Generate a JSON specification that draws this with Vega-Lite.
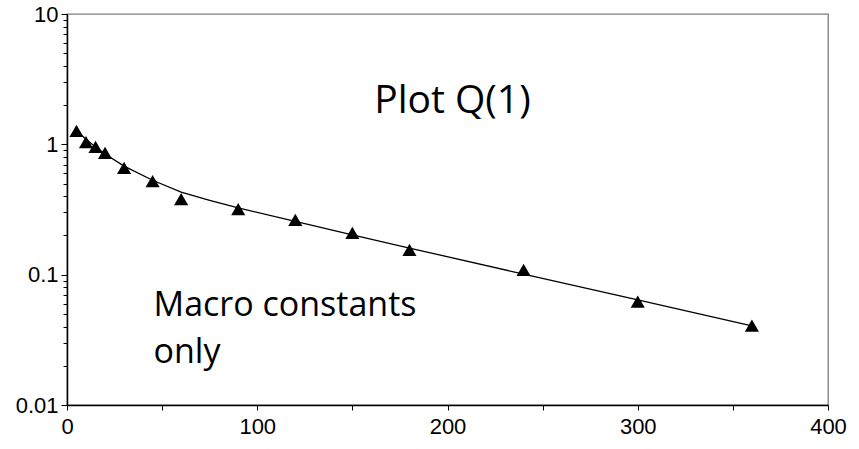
{
  "$schema": "https://vega.github.io/schema/vega-lite/v6.json",
  "autosize": "none",
  "width": 761,
  "height": 391,
  "padding": {"left": 67, "top": 14, "right": 31, "bottom": 44},
  "background": "white",
  "config": {
    "view": {"stroke": "#7f7f7f", "strokeWidth": 1.3}
  },
  "datasets": {
    "obs": [
      {"t": 5, "q": 1.27},
      {"t": 10, "q": 1.04},
      {"t": 15, "q": 0.955},
      {"t": 20, "q": 0.86},
      {"t": 30, "q": 0.66},
      {"t": 45, "q": 0.523},
      {"t": 60, "q": 0.38},
      {"t": 90, "q": 0.319},
      {"t": 120, "q": 0.263},
      {"t": 150, "q": 0.209},
      {"t": 180, "q": 0.155},
      {"t": 240, "q": 0.109},
      {"t": 300, "q": 0.062},
      {"t": 360, "q": 0.0406}
    ],
    "fit": [
      {"t": 5, "q": 1.27},
      {"t": 10, "q": 1.094},
      {"t": 15, "q": 0.955},
      {"t": 20, "q": 0.843},
      {"t": 30, "q": 0.681},
      {"t": 45, "q": 0.53},
      {"t": 60, "q": 0.43},
      {"t": 75, "q": 0.372},
      {"t": 90, "q": 0.325},
      {"t": 120, "q": 0.256},
      {"t": 150, "q": 0.202},
      {"t": 180, "q": 0.16},
      {"t": 240, "q": 0.101},
      {"t": 300, "q": 0.064},
      {"t": 360, "q": 0.0404}
    ],
    "title": [
      {"t": 202.6, "q": 1.74, "label": "Plot Q(1)"}
    ],
    "note": [
      {"t": 45.5, "q": 0.0482, "label": "Macro constants"},
      {"t": 45.5, "q": 0.021, "label": "only"}
    ]
  },
  "layer": [
    {
      "data": {"name": "fit"},
      "mark": {"type": "line", "color": "black", "strokeWidth": 1.3},
      "encoding": {
        "x": {
          "field": "t", "type": "quantitative", "title": null,
          "scale": {"domain": [0, 400], "nice": false, "zero": false},
          "axis": {
            "values": [0, 50, 100, 150, 200, 250, 300, 350, 400],
            "labelExpr": "datum.value % 100 === 0 ? datum.label : ''",
            "grid": false,
            "domainColor": "black",
            "domainWidth": 1.5,
            "tickColor": "black",
            "tickWidth": 1,
            "tickSize": 5,
            "labelColor": "black",
            "labelFont": "Liberation Sans",
            "labelFontSize": 22,
            "labelPadding": 6,
            "labelFlush": false
          }
        },
        "y": {
          "field": "q", "type": "quantitative", "title": null,
          "scale": {"type": "log", "domain": [0.01, 10], "nice": false},
          "axis": {
            "values": [0.01, 0.02, 0.03, 0.04, 0.05, 0.06, 0.07, 0.08, 0.09, 0.1, 0.2, 0.3, 0.4, 0.5, 0.6, 0.7, 0.8, 0.9, 1, 2, 3, 4, 5, 6, 7, 8, 9, 10],
            "labelExpr": "datum.value == 0.01 ? '0.01' : datum.value == 0.1 ? '0.1' : datum.value == 1 ? '1' : datum.value == 10 ? '10' : ''",
            "grid": false,
            "domainColor": "black",
            "domainWidth": 1.5,
            "tickColor": "black",
            "tickWidth": 1,
            "tickSize": {"condition": {"test": "datum.value == 0.01 || datum.value == 0.1 || datum.value == 1 || datum.value == 10", "value": 6}, "value": 4},
            "labelColor": "black",
            "labelFont": "Liberation Sans",
            "labelFontSize": 22,
            "labelPadding": 3,
            "labelFlush": false
          }
        }
      }
    },
    {
      "data": {"name": "obs"},
      "mark": {"type": "point", "shape": "triangle-up", "filled": true, "color": "black", "size": 200, "opacity": 1},
      "encoding": {
        "x": {"field": "t", "type": "quantitative"},
        "y": {"field": "q", "type": "quantitative"}
      }
    },
    {
      "data": {"name": "title"},
      "mark": {"type": "text", "font": "Open Sans", "fontSize": 39, "color": "black", "baseline": "alphabetic", "align": "center"},
      "encoding": {
        "x": {"field": "t", "type": "quantitative"},
        "y": {"field": "q", "type": "quantitative"},
        "text": {"field": "label"}
      }
    },
    {
      "data": {"name": "note"},
      "mark": {"type": "text", "font": "Open Sans", "fontSize": 34, "color": "black", "baseline": "alphabetic", "align": "left"},
      "encoding": {
        "x": {"field": "t", "type": "quantitative"},
        "y": {"field": "q", "type": "quantitative"},
        "text": {"field": "label"}
      }
    }
  ]
}
